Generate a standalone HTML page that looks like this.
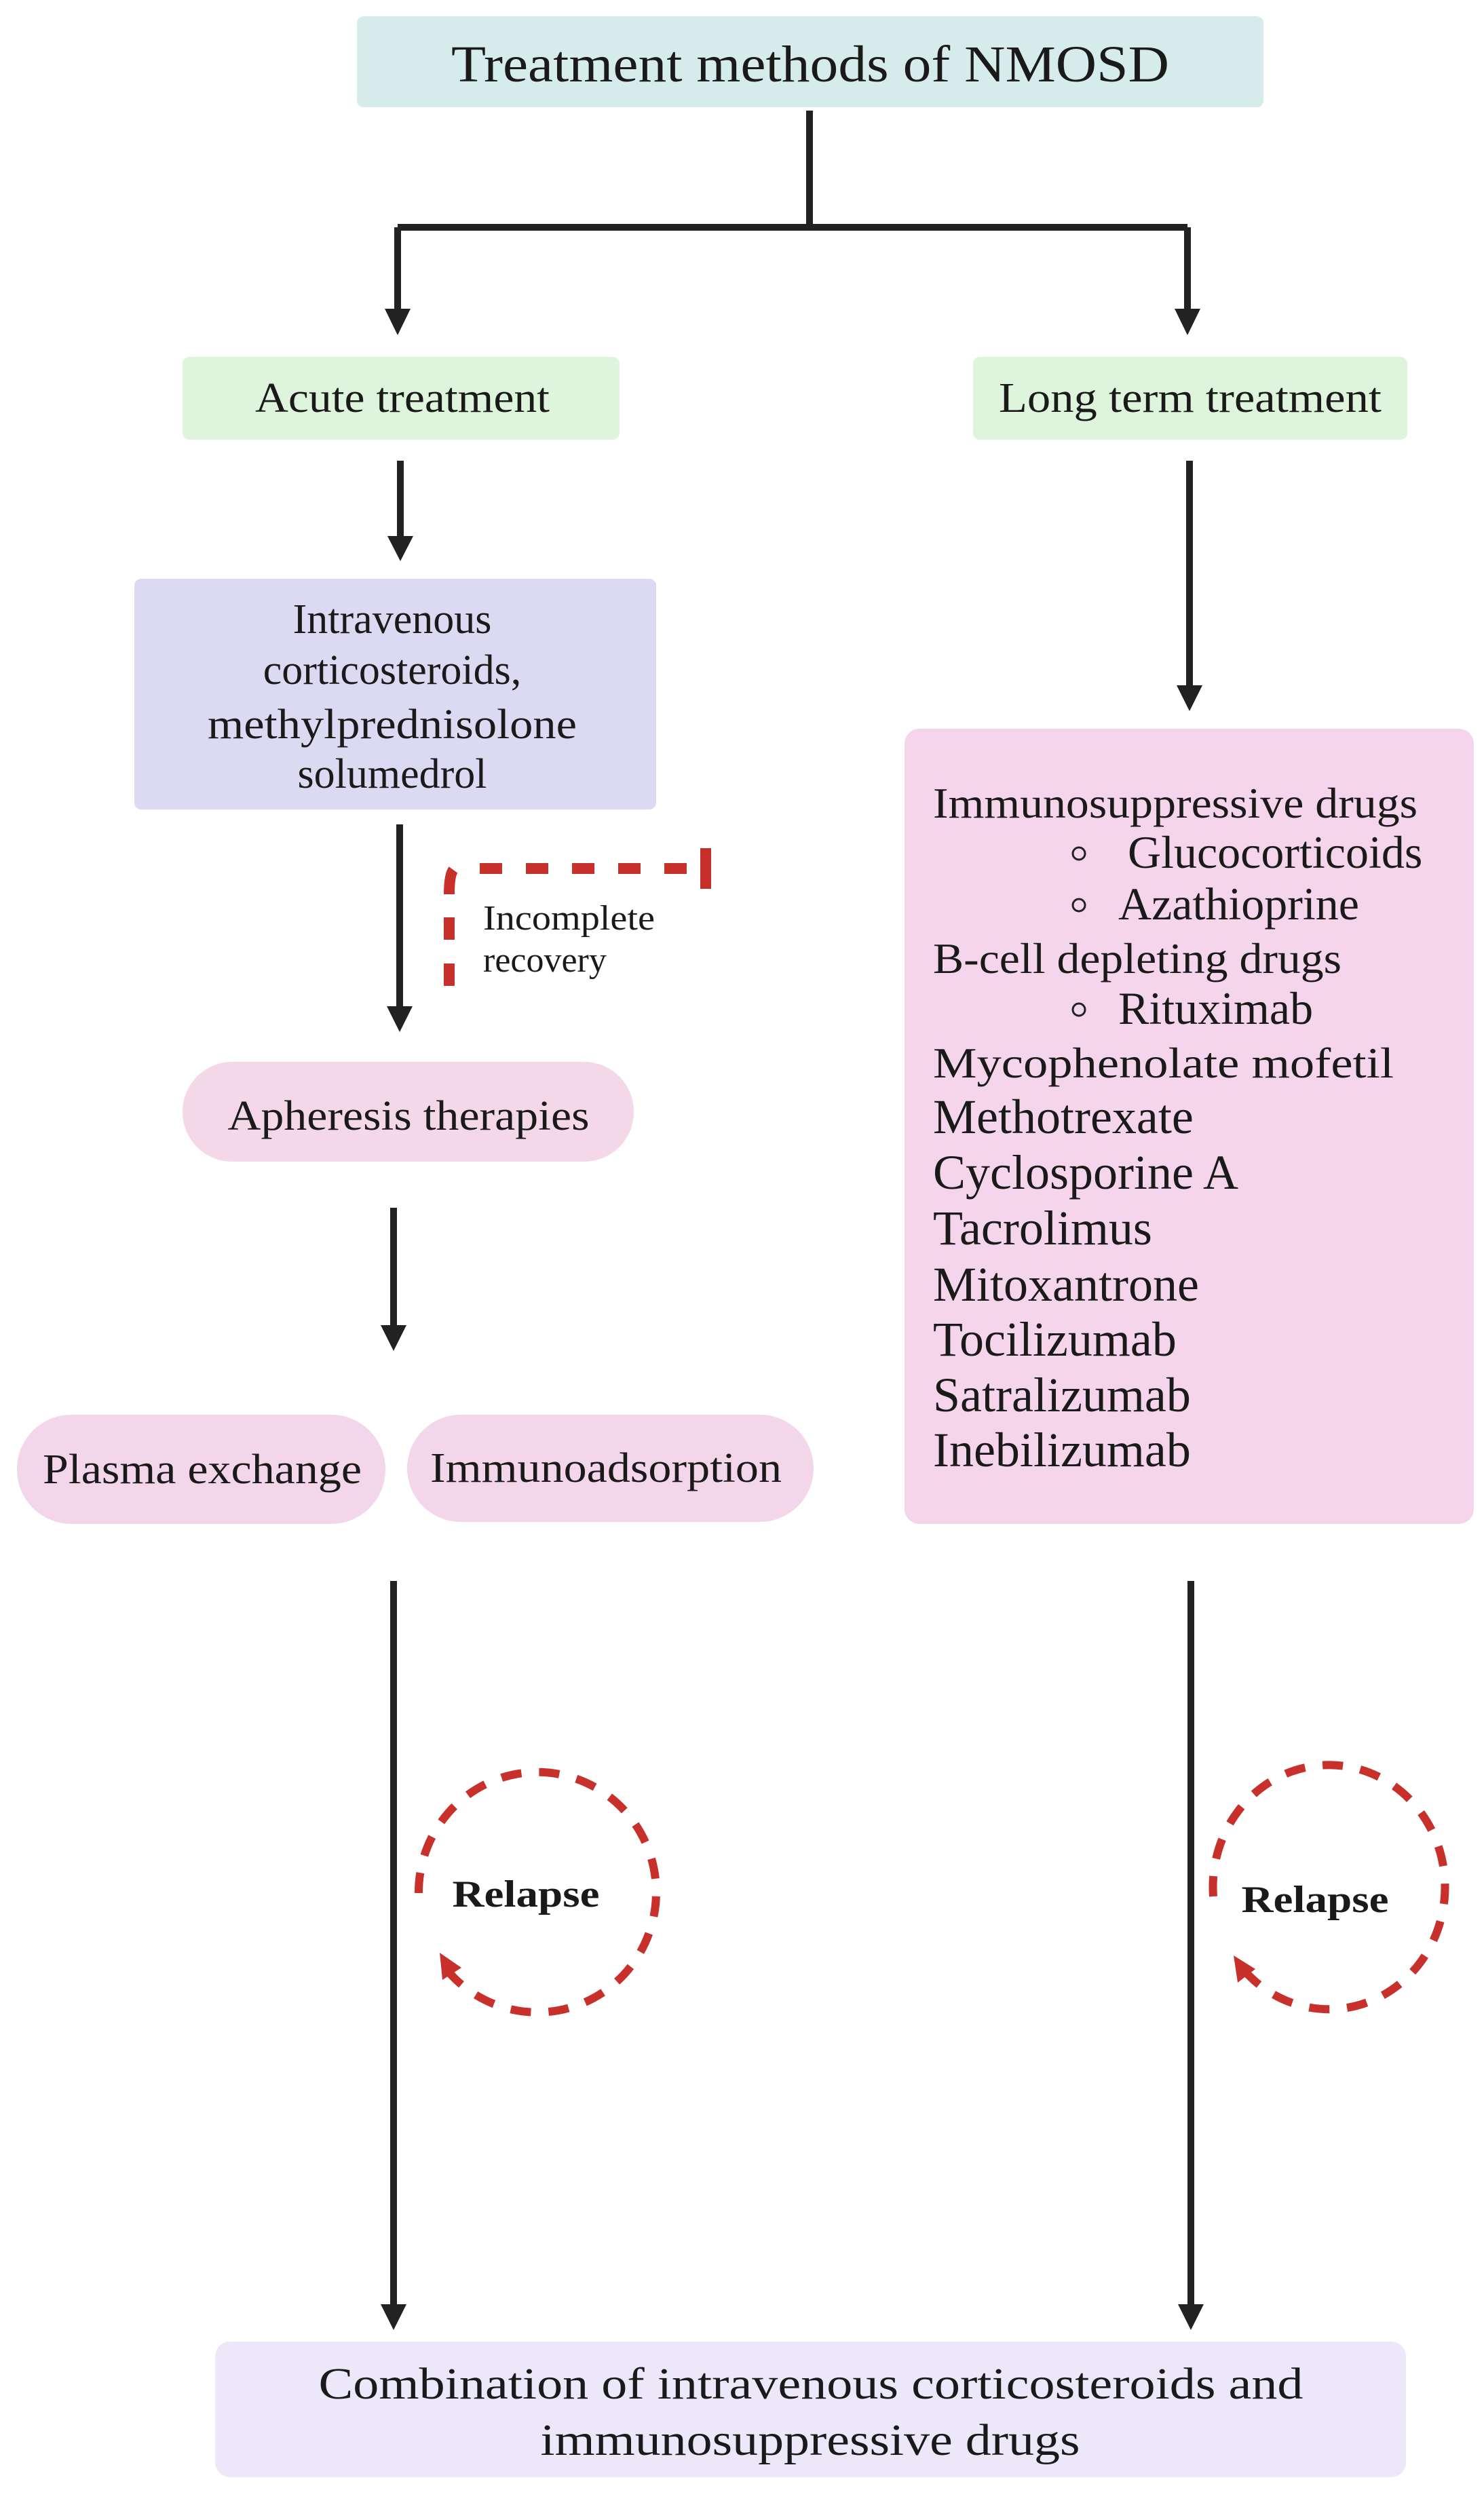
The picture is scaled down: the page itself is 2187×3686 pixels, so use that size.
<!DOCTYPE html>
<html><head><meta charset="utf-8"><style>
html,body{margin:0;padding:0;background:#fff;}
svg{display:block;}
text{font-family:"Liberation Serif",serif;fill:#1a1a1a;}
</style></head><body>
<svg width="2187" height="3686" viewBox="0 0 2187 3686" xmlns="http://www.w3.org/2000/svg">
<!-- boxes -->
<rect x="526" y="24" width="1336" height="134" rx="10" fill="#d5ecea"/>
<rect x="269" y="526" width="644" height="122" rx="10" fill="#def4dc"/>
<rect x="1434" y="526" width="640" height="122" rx="10" fill="#def4dc"/>
<rect x="198" y="853" width="769" height="340" rx="10" fill="#dcdaf3"/>
<rect x="1333" y="1074" width="839" height="1172" rx="22" fill="#f5d5eb"/>
<rect x="269" y="1565" width="665" height="147" rx="73" fill="#f4d8e7"/>
<rect x="25" y="2085" width="543" height="161" rx="80" fill="#f4d6ea"/>
<rect x="600" y="2085" width="599" height="158" rx="79" fill="#f4d6ea"/>
<rect x="317" y="3451" width="1755" height="200" rx="22" fill="#ede7fa"/>

<!-- black connectors -->
<g stroke="#222" stroke-width="10" fill="none">
<path d="M1193 163 V335 M586 335 H1750 M586 335 V460 M1750 335 V460"/>
<path d="M590 679 V795"/>
<path d="M1753 679 V1015"/>
<path d="M589 1215 V1488"/>
<path d="M580 1780 V1958"/>
<path d="M580 2330 V3400"/>
<path d="M1755 2330 V3402"/>
</g>
<g fill="#222">
<polygon points="567,455 605,455 586,494"/>
<polygon points="1731,455 1769,455 1750,494"/>
<polygon points="571,790 609,790 590,827"/>
<polygon points="1734,1010 1772,1010 1753,1048"/>
<polygon points="570,1483 608,1483 589,1521"/>
<polygon points="561,1953 599,1953 580,1991"/>
<polygon points="561,3396 599,3396 580,3434"/>
<polygon points="1736,3396 1774,3396 1755,3434"/>
</g>

<!-- incomplete recovery dashed -->
<g stroke="#c8312b" stroke-width="16" fill="none">
<path d="M1012 1280 H704" stroke-dasharray="33 35"/>
<path d="M1040 1250 V1310"/>
<path d="M662 1318 Q662 1290 668 1282" />
<path d="M662 1352 V1453" stroke-dasharray="33 35"/>
</g>

<!-- relapse circles -->
<g stroke="#c8312b" stroke-width="12" fill="none" stroke-dasharray="30 26">
<path d="M617 2790 A175 177 0 1 1 660 2905"/>
<path d="M1788 2795 A171 180 0 1 1 1830 2900"/>
</g>
<g fill="#c8312b">
<polygon points="648,2878 680,2900 652,2918"/>
<polygon points="1818,2882 1850,2902 1824,2922"/>
</g>

<!-- text -->
<text x="1194" y="120" font-size="76" text-anchor="middle" textLength="1058" lengthAdjust="spacingAndGlyphs">Treatment methods of NMOSD</text>
<text x="593" y="607" font-size="62" text-anchor="middle" textLength="434" lengthAdjust="spacingAndGlyphs">Acute treatment</text>
<text x="1754" y="607" font-size="62" text-anchor="middle" textLength="564" lengthAdjust="spacingAndGlyphs">Long term treatment</text>
<g font-size="62" text-anchor="middle">
<text x="578" y="933">Intravenous</text>
<text x="578" y="1008">corticosteroids,</text>
<text x="578" y="1088" textLength="544" lengthAdjust="spacingAndGlyphs">methylprednisolone</text>
<text x="578" y="1161">solumedrol</text>
</g>
<text x="712" y="1370" font-size="52" textLength="253" lengthAdjust="spacingAndGlyphs">Incomplete</text>
<text x="712" y="1432" font-size="52">recovery</text>
<text x="602" y="1665" font-size="62" text-anchor="middle" textLength="533" lengthAdjust="spacingAndGlyphs">Apheresis therapies</text>
<text x="298" y="2186" font-size="62" text-anchor="middle" textLength="470" lengthAdjust="spacingAndGlyphs">Plasma exchange</text>
<text x="893" y="2184" font-size="62" text-anchor="middle" textLength="518" lengthAdjust="spacingAndGlyphs">Immunoadsorption</text>

<g font-size="72">
<text x="1375" y="1205" font-size="64" textLength="714" lengthAdjust="spacingAndGlyphs">Immunosuppressive drugs</text>
<text x="1662" y="1279" font-size="68">Glucocorticoids</text>
<text x="1648" y="1355" font-size="68">Azathioprine</text>
<text x="1375" y="1434" font-size="64" textLength="602" lengthAdjust="spacingAndGlyphs">B-cell depleting drugs</text>
<text x="1648" y="1509" font-size="68">Rituximab</text>
<text x="1375" y="1588" font-size="64" textLength="679" lengthAdjust="spacingAndGlyphs">Mycophenolate mofetil</text>
<text x="1375" y="1670">Methotrexate</text>
<text x="1375" y="1752">Cyclosporine A</text>
<text x="1375" y="1834">Tacrolimus</text>
<text x="1375" y="1917">Mitoxantrone</text>
<text x="1375" y="1998">Tocilizumab</text>
<text x="1375" y="2080">Satralizumab</text>
<text x="1375" y="2161">Inebilizumab</text>
</g>
<g fill="none" stroke="#222" stroke-width="3">
<circle cx="1590" cy="1258" r="9"/>
<circle cx="1590" cy="1334" r="9"/>
<circle cx="1590" cy="1488" r="9"/>
</g>

<text x="775" y="2810" font-size="56" font-weight="bold" text-anchor="middle" textLength="217" lengthAdjust="spacingAndGlyphs">Relapse</text>
<text x="1938" y="2818" font-size="56" font-weight="bold" text-anchor="middle" textLength="217" lengthAdjust="spacingAndGlyphs">Relapse</text>

<text x="1195" y="3535" font-size="66" text-anchor="middle" textLength="1451" lengthAdjust="spacingAndGlyphs">Combination of intravenous corticosteroids and</text>
<text x="1194" y="3618" font-size="66" text-anchor="middle" textLength="795" lengthAdjust="spacingAndGlyphs">immunosuppressive drugs</text>
</svg>
</body></html>
